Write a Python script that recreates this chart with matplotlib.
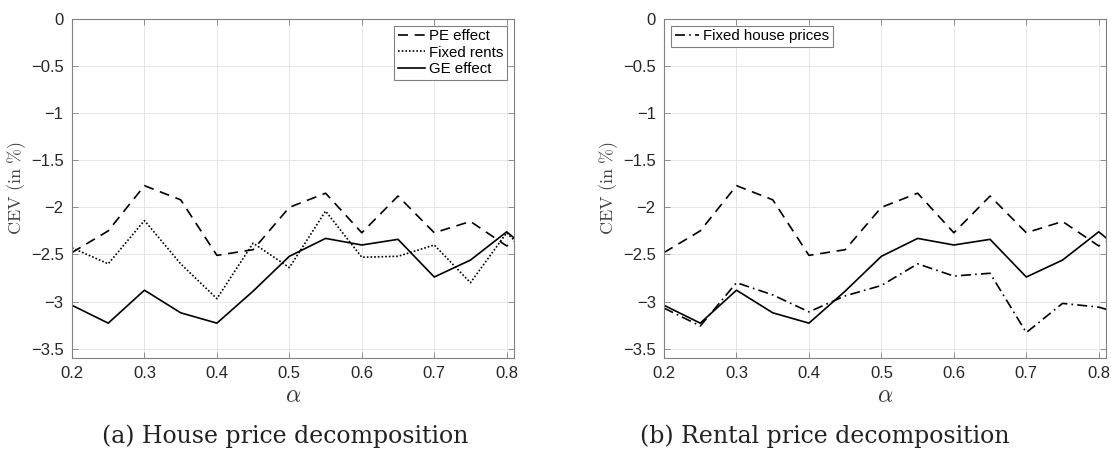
import matplotlib
matplotlib.use("Agg")
import matplotlib.pyplot as plt
import numpy as np
from matplotlib.ticker import FuncFormatter

plt.rcParams['font.family'] = ['Liberation Sans', 'DejaVu Sans']
plt.rcParams['mathtext.fontset'] = 'cm'

alpha = [0.2, 0.25, 0.3, 0.35, 0.4, 0.45, 0.5, 0.55, 0.6, 0.65, 0.7, 0.75, 0.8, 0.85]

pe_effect = [-2.48, -2.25, -1.77, -1.92, -2.51, -2.45, -2.00, -1.85, -2.27, -1.88, -2.27, -2.15, -2.41, -2.19]
fixed_rents = [-2.43, -2.60, -2.14, -2.60, -2.97, -2.38, -2.64, -2.04, -2.53, -2.52, -2.40, -2.80, -2.27, -2.66]
ge_effect = [-3.04, -3.23, -2.88, -3.12, -3.23, -2.89, -2.52, -2.33, -2.40, -2.34, -2.74, -2.56, -2.26, -2.58]
fixed_house_prices = [-3.07, -3.26, -2.80, -2.93, -3.11, -2.94, -2.83, -2.60, -2.73, -2.70, -3.33, -3.02, -3.06, -3.17]

xticks = [0.2, 0.3, 0.4, 0.5, 0.6, 0.7, 0.8]
yticks = [0, -0.5, -1, -1.5, -2, -2.5, -3, -3.5]

fig = plt.figure(figsize=(11.11, 4.62), dpi=100)
ax1 = fig.add_axes([0.0648, 0.2251, 0.3978, 0.7338])
ax2 = fig.add_axes([0.5977, 0.2251, 0.3978, 0.7338])

fmt = FuncFormatter(lambda v, p: ('%g' % v).replace('-', '\u2212'))


def style(ax):
    ax.set_xlim(0.2, 0.81)
    ax.set_ylim(-3.6, 0)
    ax.set_xticks(xticks)
    ax.set_yticks(yticks)
    ax.xaxis.set_major_formatter(fmt)
    ax.yaxis.set_major_formatter(fmt)
    ax.grid(True, color='#e6e6e6', linewidth=0.7)
    ax.set_axisbelow(True)
    for s in ax.spines.values():
        s.set_color('#808080')
        s.set_linewidth(0.8)
    ax.tick_params(direction='in', top=True, right=True, length=4,
                   width=0.6, color='#808080', labelsize=12,
                   labelcolor='#262626', pad=6)
    ax.set_ylabel('$\\mathrm{CEV\\ (in\\ \\%)}$', fontsize=13, color='#444444', labelpad=2)
    ax.set_xlabel('$\\alpha$', fontsize=17, color='#333333', labelpad=3)


lw = 1.2
ax1.plot(alpha, pe_effect, color='black', lw=lw, linestyle=(0, (6, 4)), label='PE effect')
ax1.plot(alpha, fixed_rents, color='black', lw=lw, linestyle=(0, (1, 1.2)), label='Fixed rents')
ax1.plot(alpha, ge_effect, color='black', lw=lw, linestyle='-', label='GE effect')
style(ax1)
leg1 = ax1.legend(loc='upper right', fontsize=10.8, handlelength=1.8, handletextpad=0.3,
                  borderpad=0.25, labelspacing=0.15, borderaxespad=0.45,
                  fancybox=False, framealpha=1, edgecolor='#808080')
leg1.get_frame().set_linewidth(0.8)

ax2.plot(alpha, pe_effect, color='black', lw=lw, linestyle=(0, (6, 4)))
h = ax2.plot(alpha, fixed_house_prices, color='black', lw=lw, linestyle=(0, (6, 2.5, 1, 2.5)),
             label='Fixed house prices')
ax2.plot(alpha, ge_effect, color='black', lw=lw, linestyle='-')
style(ax2)
leg2 = ax2.legend(handles=h, loc='upper left', fontsize=10.8, handlelength=1.6, handletextpad=0.3,
                  borderpad=0.25, borderaxespad=0.45,
                  fancybox=False, framealpha=1, edgecolor='#808080')
leg2.get_frame().set_linewidth(0.8)

fig.text(285 / 1111, 1 - 436 / 462, '(a) House price decomposition', ha='center', va='center',
         fontsize=17, family='DejaVu Serif', color='#222222')
fig.text(825 / 1111, 1 - 436 / 462, '(b) Rental price decomposition', ha='center', va='center',
         fontsize=17, family='DejaVu Serif', color='#222222')

fig.savefig('out.png', dpi=100)
